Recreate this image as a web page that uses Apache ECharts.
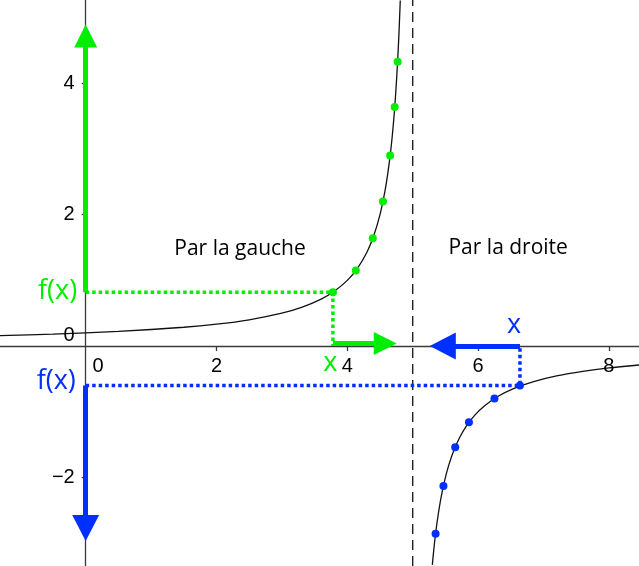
<!DOCTYPE html>
<html>
<head>
<meta charset="UTF-8">
<title>Limite en 5</title>
<script type="text/javascript" src="https://cdn.jsdelivr.net/npm/echarts@6/dist/echarts.min.js"></script>
<style type="text/css">
	html, body { margin: 0; padding: 0; background: #fff; }
	#main { width: 639px; height: 566px; }
</style>
</head>
<body>
<div id="main"></div>
<script type="text/javascript">
	// axes
	var xMin = -1.31, xMax = 8.46;
	var yMin = -3.35, yMax = 5.27;
	var xTickLabels = [0, 2, 4, 6, 8];
	var yTickLabels = [-2, 0, 2, 4];

	// courbe, branche gauche et branche droite
	var leftX = [-1.31, -0.5, 0.5, 1.5, 2, 2.5, 3, 3.3, 3.6, 3.8, 4, 4.15, 4.3, 4.4, 4.5, 4.58, 4.65, 4.7, 4.74, 4.77, 4.79, 4.81];
	var leftY = [0.158, 0.182, 0.222, 0.286, 0.333, 0.4, 0.5, 0.588, 0.714, 0.833, 1, 1.176, 1.429, 1.667, 2, 2.381, 2.857, 3.333, 3.846, 4.348, 4.762, 5.263];
	var rightX = [5.3, 5.33, 5.37, 5.42, 5.48, 5.55, 5.63, 5.72, 5.82, 5.95, 6.1, 6.3, 6.55, 6.85, 7.2, 7.6, 8, 8.46];
	var rightY = [-3.333, -3.03, -2.703, -2.381, -2.083, -1.818, -1.587, -1.389, -1.22, -1.053, -0.909, -0.769, -0.645, -0.541, -0.455, -0.385, -0.333, -0.289];

	// points verts (par la gauche) et bleus (par la droite)
	var greenX = [3.78, 4.13, 4.39, 4.545, 4.655, 4.725, 4.77];
	var greenY = [0.82, 1.15, 1.64, 2.2, 2.9, 3.64, 4.33];
	var blueX = [6.64, 6.25, 5.86, 5.65, 5.47, 5.35];
	var blueY = [-0.6, -0.8, -1.16, -1.54, -2.13, -2.86];

	// pointilles
	var greenDotX = [0, 3.78, 3.78];
	var greenDotY = [0.82, 0.82, 0];
	var blueDotX = [0, 6.64, 6.64];
	var blueDotY = [-0.6, -0.6, 0];

	// fleches [x1, y1, x2, y2]
	var greenArrows = [[0, 0.82, 0, 4.72], [3.78, 0.04, 4.58, 0.04]];
	var blueArrows = [[6.64, 0, 5.46, 0], [0, -0.6, 0, -2.77]];

	// asymptote
	var asymX = 5;

	// textes
	var zoneNames = ['Par la gauche', 'Par la droite'];
	var zoneX = [2.36, 6.46];
	var zoneY = [1.48, 1.5];
	var greenLabels = ['f(x)', 'x'];
	var greenLabelX = [-0.43, 3.74];
	var greenLabelY = [0.84, -0.26];
	var blueLabels = ['f(x)', 'x'];
	var blueLabelX = [-0.45, 6.55];
	var blueLabelY = [-0.54, 0.32];

	var GREEN = '#00ee00';
	var BLUE = '#0030ff';
	var AXIS = '#3a3a3a';

	function pairs(xs, ys) {
		var out = [];
		for (var i = 0; i < xs.length; i++) {
			out.push([xs[i], ys[i]]);
		}
		return out;
	}
	function named(names, xs, ys) {
		var out = [];
		for (var i = 0; i < names.length; i++) {
			out.push({ name: names[i], value: [xs[i], ys[i]] });
		}
		return out;
	}
	function arrowData(list) {
		var out = [];
		for (var i = 0; i < list.length; i++) {
			out.push([{ coord: [list[i][0], list[i][1]] }, { coord: [list[i][2], list[i][3]] }]);
		}
		return out;
	}
	function textSeries(data, color, size, family) {
		return {
			type: 'scatter',
			data: data,
			symbolSize: 0,
			silent: true,
			z: 10,
			itemStyle: { opacity: 1 },
			label: {
				show: true,
				position: 'inside',
				formatter: '{b}',
				color: color,
				opacity: 1,
				fontSize: size,
				fontFamily: family
			}
		};
	}

	// etiquettes des graduations, posees sur les axes
	var tickData = [];
	for (var i = 0; i < xTickLabels.length; i++) {
		var v = xTickLabels[i];
		tickData.push({
			name: String(v),
			value: [v, 0],
			label: { offset: v === 0 ? [12.5, 20] : [0, 20] }
		});
	}
	for (var j = 0; j < yTickLabels.length; j++) {
		var w = yTickLabels[j];
		tickData.push({
			name: w < 0 ? '\u2212' + Math.abs(w) : String(w),
			value: [0, w],
			label: { align: 'right', offset: w === 0 ? [-11, -11] : [-11, 0] }
		});
	}

	var myChart = echarts.init(document.getElementById('main'));

	var option = {
		animation: false,
		grid: { left: 0, right: 0, top: 0, bottom: 0, containLabel: false, outerBoundsMode: 'none' },
		xAxis: {
			type: 'value',
			min: xMin,
			max: xMax,
			splitLine: { show: false },
			axisLine: { onZero: true, lineStyle: { color: AXIS, width: 1.3 } },
			axisTick: { customValues: [2, 4, 6, 8], length: 5, lineStyle: { color: AXIS, width: 1.3 } },
			axisLabel: { show: false }
		},
		yAxis: {
			type: 'value',
			min: yMin,
			max: yMax,
			splitLine: { show: false },
			axisLine: { onZero: true, lineStyle: { color: AXIS, width: 1.3 } },
			axisTick: { customValues: [-2, 2, 4], length: 4, lineStyle: { color: AXIS, width: 1.3 } },
			axisLabel: { show: false }
		},
		series: [
			{
				type: 'line',
				data: [[asymX, yMin], [asymX, yMax]],
				symbol: 'none',
				silent: true,
				z: 2,
				lineStyle: { color: '#222', width: 1.4, type: [10, 6] }
			},
			{
				type: 'line',
				data: pairs(leftX, leftY),
				symbol: 'none',
				smooth: 0.25,
				silent: true,
				z: 3,
				lineStyle: { color: '#111', width: 1.3 }
			},
			{
				type: 'line',
				data: pairs(rightX, rightY),
				symbol: 'none',
				smooth: 0.25,
				silent: true,
				z: 3,
				lineStyle: { color: '#111', width: 1.3 }
			},
			{
				type: 'line',
				data: pairs(greenDotX, greenDotY),
				symbol: 'none',
				silent: true,
				z: 4,
				lineStyle: { color: GREEN, width: 3.5, type: [3.5, 3], cap: 'butt' }
			},
			{
				type: 'line',
				data: pairs(blueDotX, blueDotY),
				symbol: 'none',
				silent: true,
				z: 4,
				lineStyle: { color: BLUE, width: 3.5, type: [3.5, 3], cap: 'butt' }
			},
			{
				type: 'line',
				data: [],
				z: 5,
				markLine: {
					silent: true,
					animation: false,
					symbol: ['none', 'triangle'],
					symbolSize: [23, 23],
					label: { show: false },
					lineStyle: { color: GREEN, width: 5, type: 'solid' },
					data: arrowData(greenArrows)
				}
			},
			{
				type: 'line',
				data: [],
				z: 5,
				markLine: {
					silent: true,
					animation: false,
					symbol: ['none', 'triangle'],
					symbolSize: [27, 26],
					label: { show: false },
					lineStyle: { color: BLUE, width: 5, type: 'solid' },
					data: arrowData(blueArrows)
				}
			},
			{
				type: 'scatter',
				data: pairs(greenX, greenY),
				symbolSize: 8,
				silent: true,
				z: 6,
				itemStyle: { color: GREEN, opacity: 1 }
			},
			{
				type: 'scatter',
				data: pairs(blueX, blueY),
				symbolSize: 8,
				silent: true,
				z: 6,
				itemStyle: { color: BLUE, opacity: 1 }
			},
			textSeries(tickData, '#000', 20, 'Liberation Sans'),
			textSeries(named(zoneNames, zoneX, zoneY), '#000', 21, 'Open Sans'),
			textSeries(named(greenLabels, greenLabelX, greenLabelY), GREEN, 27, 'Open Sans'),
			textSeries(named(blueLabels, blueLabelX, blueLabelY), BLUE, 27, 'Open Sans')
		]
	};

	myChart.setOption(option);
</script>
</body>
</html>
